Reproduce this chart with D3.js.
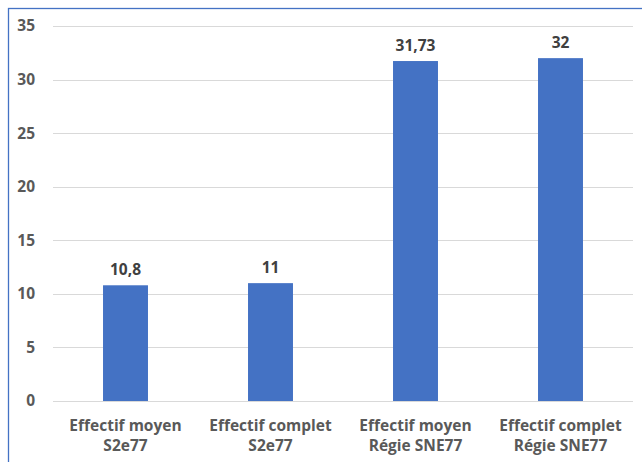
<!DOCTYPE html>
<html>
<head>
<meta charset="utf-8">
<script src="https://cdn.jsdelivr.net/npm/d3@7"></script>
<style>
  body { margin: 0; background: #fff; }
  svg { display: block; }
  text { font-family: "Open Sans", sans-serif; font-weight: bold; }
</style>
</head>
<body>
<svg id="chart"></svg>
<script>
// categories (two lines each) and values
const categories = [
  ['Effectif moyen', 'S2e77'],
  ['Effectif complet', 'S2e77'],
  ['Effectif moyen', 'Régie SNE77'],
  ['Effectif complet', 'Régie SNE77']
];
const values = [10.8, 11, 31.73, 32];
const valueLabels = ['10,8', '11', '31,73', '32'];
const yTicks = [0, 5, 10, 15, 20, 25, 30, 35];

const width = 642;
const height = 462;
const margin = { top: 26, right: 9, bottom: 61, left: 53 };

const svg = d3.select('#chart')
  .attr('width', width)
  .attr('height', height);

// chart frame
svg.append('rect')
  .attr('x', 8.5)
  .attr('y', 8.5)
  .attr('width', width)
  .attr('height', height)
  .attr('fill', 'none')
  .attr('stroke', '#4472c4')
  .attr('stroke-width', 1.3);

const xScale = d3.scaleBand()
  .domain(d3.range(categories.length))
  .range([margin.left, width - margin.right])
  .paddingInner(0.69)
  .paddingOuter(0.345);

const yScale = d3.scaleLinear()
  .domain([0, 35])
  .range([height - margin.bottom, margin.top]);

// gridlines
svg.append('g')
  .selectAll('line')
  .data(yTicks)
  .enter()
  .append('line')
  .attr('x1', margin.left)
  .attr('x2', width - margin.right)
  .attr('y1', d => Math.round(yScale(d)) + 0.5)
  .attr('y2', d => Math.round(yScale(d)) + 0.5)
  .attr('stroke', '#d9d9d9')
  .attr('stroke-width', 1.2);

// y axis labels
const yAxis = d3.axisLeft(yScale).tickValues(yTicks).tickSize(0).tickPadding(0);
svg.append('g')
  .attr('transform', `translate(35, 0)`)
  .call(yAxis)
  .call(g => g.select('.domain').remove())
  .call(g => g.selectAll('text')
    .attr('fill', '#595959')
    .style('font-size', '15.5px')
    .style('font-family', '"Open Sans", sans-serif')
    .style('font-weight', 'bold'));

// bars
svg.selectAll('.bar')
  .data(values)
  .enter()
  .append('rect')
  .attr('class', 'bar')
  .attr('x', (d, i) => xScale(i))
  .attr('y', d => yScale(d))
  .attr('width', xScale.bandwidth())
  .attr('height', d => yScale(0) - yScale(d))
  .attr('fill', '#4472c4');

// value labels
svg.selectAll('.value')
  .data(values)
  .enter()
  .append('text')
  .attr('class', 'value')
  .attr('x', (d, i) => xScale(i) + xScale.bandwidth() / 2)
  .attr('y', d => yScale(d) - 10)
  .attr('text-anchor', 'middle')
  .attr('fill', '#404040')
  .style('font-size', '15.5px')
  .text((d, i) => valueLabels[i]);

// category labels
const cat = svg.selectAll('.cat')
  .data(categories)
  .enter()
  .append('text')
  .attr('class', 'cat')
  .attr('x', (d, i) => xScale(i) + xScale.bandwidth() / 2)
  .attr('y', 431)
  .attr('text-anchor', 'middle')
  .attr('fill', '#595959')
  .style('font-size', '15.5px');

cat.selectAll('tspan')
  .data(d => d)
  .enter()
  .append('tspan')
  .attr('x', function() { return d3.select(this.parentNode).attr('x'); })
  .attr('dy', (d, i) => i === 0 ? 0 : 20)
  .text(d => d);
</script>
</body>
</html>
